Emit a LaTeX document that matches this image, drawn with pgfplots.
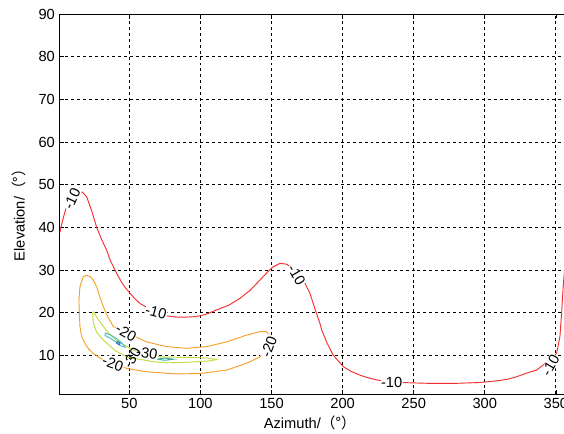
\documentclass[border=0pt]{standalone}
\usepackage{fontspec}
\setmainfont{Liberation Sans}
\newfontfamily\cjk{Noto Sans CJK SC}
\usepackage{pgfplots}
\pgfplotsset{compat=1.18}
\definecolor{cred}{RGB}{245,45,45}
\definecolor{corange}{RGB}{245,160,40}
\definecolor{cyg}{RGB}{190,220,60}
\definecolor{ccyan}{RGB}{70,190,205}
\definecolor{cteal}{RGB}{60,170,160}
\definecolor{cblue}{RGB}{40,110,200}
\begin{document}
\begin{tikzpicture}
\begin{axis}[
  at={(0,0)}, anchor=south west,
  scale only axis, width=382.9pt, height=285pt,
  xmin=1, xmax=360, ymin=1, ymax=90,
  xtick={50,100,...,350}, ytick={10,20,...,90},
  grid=major,
  major grid style={black, dash pattern=on 2.2pt off 2.2pt, line width=0.65pt},
  tick align=inside, major tick length=3pt,
  axis line style={black, line width=0.75pt},
  tick style={black, line width=0.6pt},
  /pgf/number format/assume math mode=true,
  ticklabel style={font=\fontsize{11}{12}\selectfont},
  label style={font=\fontsize{11}{12}\selectfont},
  xlabel={Azimuth/{\cjk （°）}},
  ylabel={Elevation/{\cjk （°）}},
  xlabel style={at={(axis description cs:0.49,0)}, anchor=center, yshift=-21.75pt},
  ylabel style={at={(axis description cs:0,0.48)}, anchor=center, yshift=30.5pt},
  every axis plot/.append style={line width=0.7pt, mark=none},
]
% -10 contour
\addplot[cred] coordinates {
(1.2,38.8)(3,41.5)(4.8,43.7)(6,45)(8,46.5)(11,47.8)(14,48.3)(17,48.3)(20,47.2)(23.5,44)(27.1,40)(30.5,37.2)(34.1,34.7)(36.5,32.4)(40,30)(44,27.5)(47,26)(50.5,24.6)(54,23.3)(57.5,22.2)(63.4,21.1)(69.3,20.1)(76.3,19.3)(83,19.0)(89.2,19.0)(95,19.1)(99.7,19.3)(105,19.8)(111.4,20.7)(120,21.8)(127.8,23.4)(135,25.3)(141.9,27.7)(147,29.5)(151.2,30.8)(156,31.6)(160.7,31.4)(165,30.3)(169,29)(172.4,27.7)(177,24.6)(180.5,21)(184,17.6)(185.3,16)(189,13)(193.4,10.1)(200.5,7.4)(206,6.3)(212.2,5.4)(218,4.8)(224,4.3)(232,3.9)(240.3,3.7)(260,3.5)(280.2,3.5)(296.6,3.7)(306,4)(315.4,4.4)(322,5)(329.4,5.9)(336.4,6.6)(341.1,7.8)(346,9)(350.5,10.5)(352.8,14.4)(354,19.9)(355.1,26.1)(356.5,32)(358,38)
};
% -20 contour
\addplot[corange] coordinates {
(17.7,28.5)(15.3,26.1)(14.6,23)(14.8,20.7)(15.3,16.8)(16.5,14.5)(18.8,12.9)(21.5,11.5)(24.7,10.5)(30,9.3)(38.8,8.2)(48.2,7.0)(62.2,6.2)(83.3,5.7)(99.7,5.8)(118.5,6.6)(132.5,8.2)(141.9,9.7)(146,11.5)(149,14.4)(146.6,15.6)(141.9,15.6)(132.5,14.8)(118.5,13.2)(104.4,12.1)(90.3,11.7)(76.3,12.1)(62.2,13.2)(52,14.8)(45.8,16)(38.8,16.8)(35,19)(31.8,21.4)(29,24)(27.1,26.1)(24.5,27.8)(22.4,28.5)(20,28.8)(17.7,28.5)
};
% -30 contour
\addplot[cyg] coordinates {
(24.7,20.3)(28,18.5)(31.8,16.8)(36,15)(41.1,13.6)(47,12.3)(52.8,11.3)(60,10.4)(71.6,9.7)(83,9.6)(95,9.6)(105,9.4)(111.4,9.1)(108,8.8)(99.7,8.6)(88,8.4)(76.3,8.3)(66,8.6)(59.8,9.0)(52,9.4)(48.2,9.7)(40,11.2)(31.8,13.6)(27,15.5)(24.7,17.6)(24.3,19.9)(24.7,20.3)
};
% inner contours
\addplot[ccyan] coordinates {
(33,15.3)(37,14.8)(41,14)(45,12.9)(47,12.0)(44.5,12.2)(40.5,13.2)(36.5,14.1)(33,14.7)(33,15.3)
};
\addplot[cteal] coordinates {
(69,9.15)(75,9.4)(81,9.15)(75,8.9)(69,9.15)
};
\addplot[cblue] coordinates {
(41.5,13.3)(43.5,12.9)(43,12.5)(41,12.9)(41.5,13.3)
};
% contour labels
\tikzset{clab/.style={fill=white, inner sep=0.4pt, font=\fontsize{11}{12}\selectfont}}
\node[clab, rotate=65] at (axis cs:9.7,46.7) {-10};
\node[clab, rotate=-15] at (axis cs:68.8,20.1) {-10};
\node[clab, rotate=-60] at (axis cs:167.6,28.9) {-10};
\node[clab] at (axis cs:234.5,3.7) {-10};
\node[clab, rotate=60] at (axis cs:346.2,7.7) {-10};
\node[clab, rotate=-30] at (axis cs:47.7,15.4) {-20};
\node[clab, rotate=-20] at (axis cs:38.5,8.1) {-20};
\node[clab, rotate=70] at (axis cs:148.2,12.1) {-20};
\node[clab, rotate=-8] at (axis cs:62.4,10.5) {-30};
\node[clab, rotate=60, fill=none] at (axis cs:51.9,9.5) {-30};
\end{axis}
\pgfresetboundingbox
\useasboundingbox (-44.7pt,-29.25pt) rectangle (378.3pt,295.5pt);
\end{tikzpicture}
\end{document}
